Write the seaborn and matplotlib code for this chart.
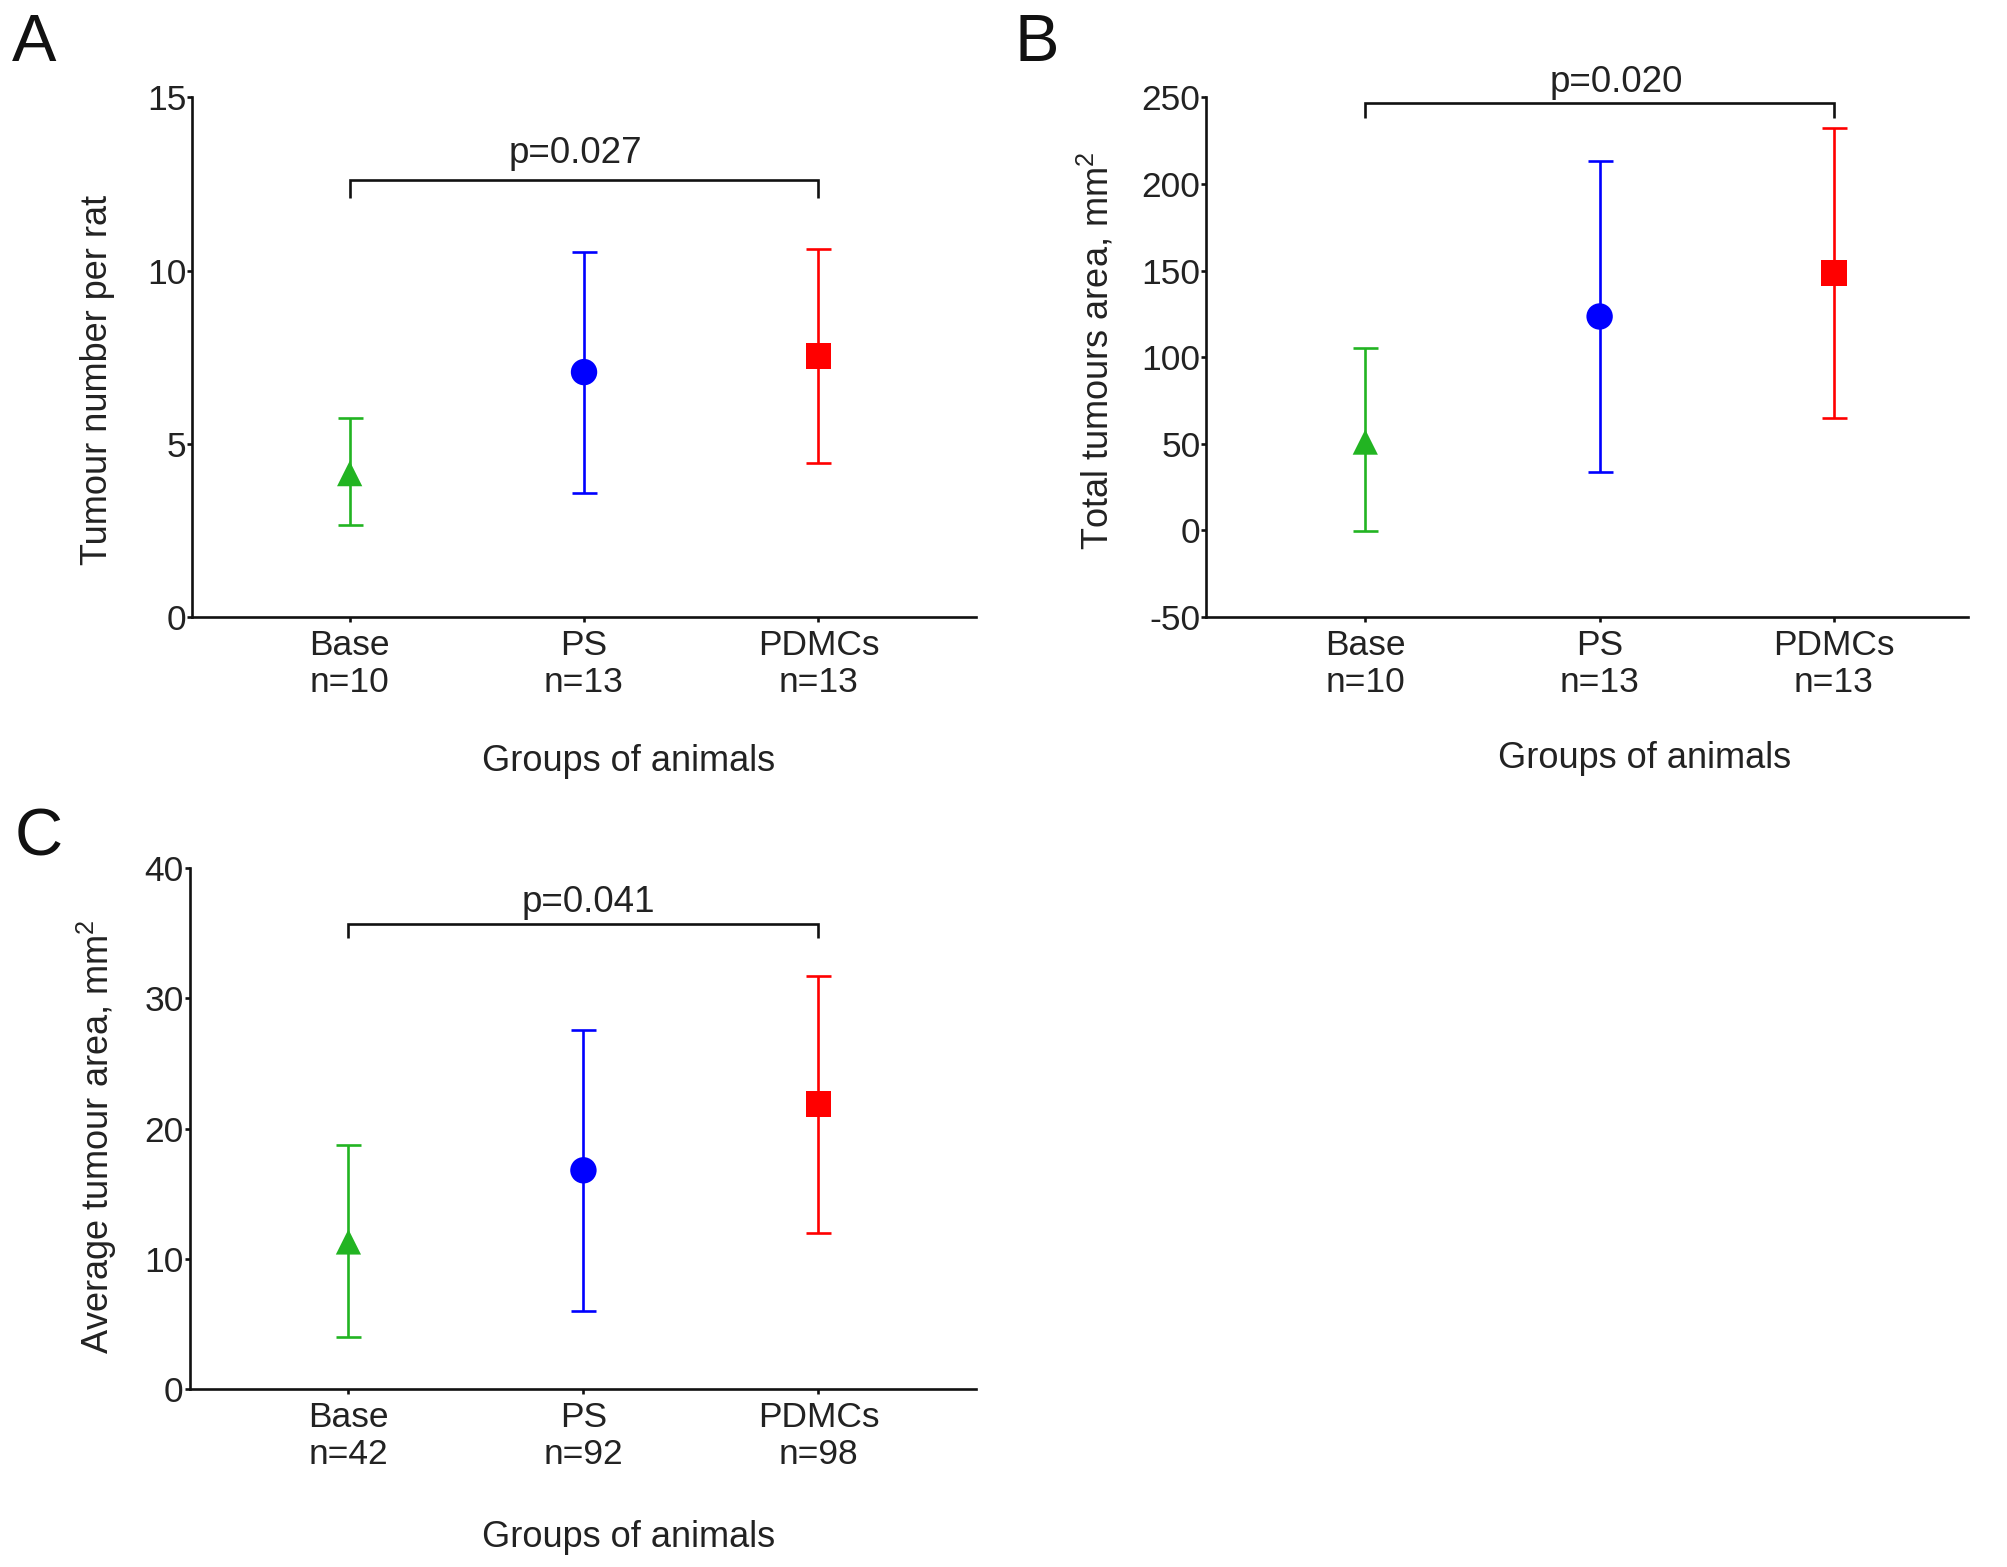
import matplotlib
matplotlib.use("Agg")
import matplotlib.pyplot as plt
import seaborn as sns
import pandas as pd

# ---------------- data ----------------
groups = ["Base", "PS", "PDMCs"]
n_animals = [10, 13, 13]
n_tumours = [42, 92, 98]
colors = ["#22B422", "#0000FF", "#FF0000"]
markers = ["^", "o", "s"]
marker_sizes = [330, 361, 340]

a_mean = [4.14, 7.07, 7.53]
a_low = [2.66, 3.57, 4.46]
a_high = [5.74, 10.55, 10.62]

b_mean = [51.0, 123.5, 148.5]
b_low = [-0.5, 33.5, 65.0]
b_high = [105.5, 213.0, 232.5]

c_mean = [11.3, 16.8, 21.9]
c_low = [4.0, 6.0, 12.0]
c_high = [18.75, 27.6, 31.7]

p_a, p_b, p_c = "p=0.027", "p=0.020", "p=0.041"

# ---------------- style ----------------
sns.set_theme(style="ticks")
plt.rcParams["font.family"] = ["Liberation Sans", "DejaVu Sans"]
plt.rcParams["mathtext.fontset"] = "custom"
plt.rcParams["mathtext.rm"] = "Liberation Sans"
plt.rcParams["mathtext.it"] = "Liberation Sans:italic"
plt.rcParams["mathtext.bf"] = "Liberation Sans:bold"

TXT = "#222222"
FS_TICK = 25.5
FS_LAB = 26
FS_P = 26.5
LW = 1.9

fig = plt.figure(figsize=(20.08, 15.67), dpi=100)


def panel(rect, mean, low, high, ns, ylim, yticks, ylabel, ptext, ptx, pty,
          bar_y, leg_y, xlim, ylab_xy, xlab_xy):
    ax = fig.add_axes(rect)
    df = pd.DataFrame({"group": groups, "mean": mean, "low": low, "high": high})
    for i, row in df.iterrows():
        ax.errorbar([row["group"]], [row["mean"]],
                    yerr=[[row["mean"] - row["low"]], [row["high"] - row["mean"]]],
                    fmt="none", ecolor=colors[i], elinewidth=1.9, capsize=9,
                    capthick=1.9, zorder=2)
    sns.scatterplot(data=df, x="group", y="mean", hue="group", style="group",
                    palette=dict(zip(groups, colors)),
                    markers=dict(zip(groups, markers)),
                    size="group", sizes=dict(zip(groups, marker_sizes)),
                    linewidth=0, legend=False, ax=ax, zorder=3)
    # significance bracket
    ax.plot([groups[0], groups[0], groups[2], groups[2]],
            [leg_y, bar_y, bar_y, leg_y], color="#111111", lw=LW,
            clip_on=False, solid_capstyle="butt", solid_joinstyle="miter", zorder=4)
    ax.text(ptx, pty, ptext, ha="center", va="baseline", fontsize=FS_P,
            color=TXT, clip_on=False)

    ax.set_xlim(*xlim)
    ax.set_ylim(*ylim)
    ax.set_yticks(yticks)
    ax.set_yticklabels([str(t) for t in yticks])
    ax.set_xticks(range(len(groups)))
    ax.set_xticklabels([f"{g}\nn={n}" for g, n in zip(groups, ns)],
                       linespacing=1.15)
    sns.despine(ax=ax)
    for s in ["left", "bottom"]:
        ax.spines[s].set_linewidth(LW)
        ax.spines[s].set_color("#111111")
    ax.tick_params(axis="both", direction="out", width=LW, color="#111111",
                   labelsize=FS_TICK, labelcolor=TXT)
    ax.tick_params(axis="y", length=3.5, pad=0.8)
    ax.tick_params(axis="x", length=3.5, pad=5.0)
    ax.set_ylabel(ylabel, fontsize=FS_LAB, color=TXT)
    ax.set_xlabel("Groups of animals", fontsize=FS_LAB, color=TXT)
    ax.yaxis.set_label_coords(*ylab_xy)
    ax.xaxis.set_label_coords(*xlab_xy)
    ax.grid(False)
    return ax


panel([0.0957, 0.6062, 0.3903, 0.3317], a_mean, a_low, a_high, n_animals,
      (0, 15), [0, 5, 10, 15], "Tumour number per rat", p_a, 0.962, 13.1,
      12.6, 12.08, (-0.672, 2.672), (-0.098, 0.456), (0.557, -0.244))

panel([0.6008, 0.6062, 0.3795, 0.3317], b_mean, b_low, b_high, n_animals,
      (-50, 250), [-50, 0, 50, 100, 150, 200, 250],
      "Total tumours area, mm$^{2}$", p_b, 1.07, 253.3,
      247.0, 238.0, (-0.678, 2.574), (-0.1176, 0.512), (0.575, -0.239))

panel([0.0944, 0.1135, 0.3916, 0.3325], c_mean, c_low, c_high, n_tumours,
      (0, 40), [0, 10, 20, 30, 40], "Average tumour area, mm$^{2}$", p_c,
      1.02, 36.6, 35.7, 34.6, (-0.676, 2.67), (-0.0896, 0.484),
      (0.5586, -0.2506))

for lx, ly, letter in [(0.0060, 0.9608, "A"), (0.5053, 0.9608, "B"),
                       (0.0072, 0.4542, "C")]:
    fig.text(lx, ly, letter, fontsize=48, color="#111111", ha="left",
             va="baseline")

fig.savefig("out.png", dpi=100, facecolor="white")
